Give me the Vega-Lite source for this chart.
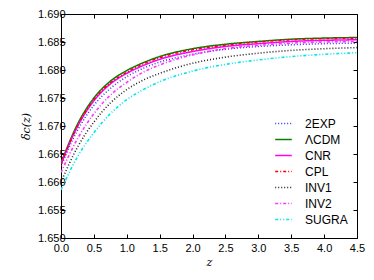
{
  "$schema": "https://vega.github.io/schema/vega-lite/v6.json",
  "width": 296,
  "height": 224,
  "autosize": {"type": "none"},
  "padding": {"left": 61, "top": 14, "right": 17, "bottom": 42},
  "background": "white",
  "config": {
    "font": "Liberation Sans",
    "view": {"stroke": "black", "strokeWidth": 1},
    "axis": {"grid": false, "domain": false, "tickColor": "black", "tickSize": -4, "labelColor": "black", "labelFontSize": 11, "labelFont": "Liberation Sans"},
    "legend": {"labelFontSize": 12, "labelFont": "Liberation Sans", "labelColor": "black"}
  },
  "data": {"values": [
    {"m":"2EXP","z":0,"d":1.6628},{"m":"2EXP","z":0.25,"d":1.6692},{"m":"2EXP","z":0.5,"d":1.6737},{"m":"2EXP","z":0.75,"d":1.6767},{"m":"2EXP","z":1,"d":1.6788},{"m":"2EXP","z":1.25,"d":1.6803},{"m":"2EXP","z":1.5,"d":1.6814},{"m":"2EXP","z":2,"d":1.6828},{"m":"2EXP","z":2.5,"d":1.6837},{"m":"2EXP","z":3,"d":1.6842},{"m":"2EXP","z":3.5,"d":1.6845},{"m":"2EXP","z":4,"d":1.6847},{"m":"2EXP","z":4.5,"d":1.6848},
    {"m":"ΛCDM","z":0,"d":1.6634},{"m":"ΛCDM","z":0.25,"d":1.6703},{"m":"ΛCDM","z":0.5,"d":1.6750},{"m":"ΛCDM","z":0.75,"d":1.6780},{"m":"ΛCDM","z":1,"d":1.6799},{"m":"ΛCDM","z":1.25,"d":1.6813},{"m":"ΛCDM","z":1.5,"d":1.6824},{"m":"ΛCDM","z":2,"d":1.6838},{"m":"ΛCDM","z":2.5,"d":1.6846},{"m":"ΛCDM","z":3,"d":1.6851},{"m":"ΛCDM","z":3.5,"d":1.6855},{"m":"ΛCDM","z":4,"d":1.6857},{"m":"ΛCDM","z":4.5,"d":1.6858},
    {"m":"CNR","z":0,"d":1.6632},{"m":"CNR","z":0.25,"d":1.6699},{"m":"CNR","z":0.5,"d":1.6745},{"m":"CNR","z":0.75,"d":1.6775},{"m":"CNR","z":1,"d":1.6794},{"m":"CNR","z":1.25,"d":1.6808},{"m":"CNR","z":1.5,"d":1.6819},{"m":"CNR","z":2,"d":1.6833},{"m":"CNR","z":2.5,"d":1.6842},{"m":"CNR","z":3,"d":1.6847},{"m":"CNR","z":3.5,"d":1.6851},{"m":"CNR","z":4,"d":1.6853},{"m":"CNR","z":4.5,"d":1.6854},
    {"m":"CPL","z":0,"d":1.6632},{"m":"CPL","z":0.25,"d":1.6700},{"m":"CPL","z":0.5,"d":1.6747},{"m":"CPL","z":0.75,"d":1.6777},{"m":"CPL","z":1,"d":1.6796},{"m":"CPL","z":1.25,"d":1.6811},{"m":"CPL","z":1.5,"d":1.6822},{"m":"CPL","z":2,"d":1.6836},{"m":"CPL","z":2.5,"d":1.6844},{"m":"CPL","z":3,"d":1.6850},{"m":"CPL","z":3.5,"d":1.6854},{"m":"CPL","z":4,"d":1.6856},{"m":"CPL","z":4.5,"d":1.6857},
    {"m":"INV1","z":0,"d":1.6600},{"m":"INV1","z":0.25,"d":1.6662},{"m":"INV1","z":0.5,"d":1.6707},{"m":"INV1","z":0.75,"d":1.6741},{"m":"INV1","z":1,"d":1.6765},{"m":"INV1","z":1.25,"d":1.6782},{"m":"INV1","z":1.5,"d":1.6794},{"m":"INV1","z":2,"d":1.6812},{"m":"INV1","z":2.5,"d":1.6823},{"m":"INV1","z":3,"d":1.6830},{"m":"INV1","z":3.5,"d":1.6835},{"m":"INV1","z":4,"d":1.6838},{"m":"INV1","z":4.5,"d":1.6840},
    {"m":"INV2","z":0,"d":1.6617},{"m":"INV2","z":0.25,"d":1.6677},{"m":"INV2","z":0.5,"d":1.6722},{"m":"INV2","z":0.75,"d":1.6755},{"m":"INV2","z":1,"d":1.6778},{"m":"INV2","z":1.25,"d":1.6796},{"m":"INV2","z":1.5,"d":1.6809},{"m":"INV2","z":2,"d":1.6827},{"m":"INV2","z":2.5,"d":1.6838},{"m":"INV2","z":3,"d":1.6844},{"m":"INV2","z":3.5,"d":1.6848},{"m":"INV2","z":4,"d":1.6850},{"m":"INV2","z":4.5,"d":1.6851},
    {"m":"SUGRA","z":0,"d":1.6586},{"m":"SUGRA","z":0.25,"d":1.6645},{"m":"SUGRA","z":0.5,"d":1.6688},{"m":"SUGRA","z":0.75,"d":1.6722},{"m":"SUGRA","z":1,"d":1.6747},{"m":"SUGRA","z":1.25,"d":1.6765},{"m":"SUGRA","z":1.5,"d":1.6779},{"m":"SUGRA","z":2,"d":1.6798},{"m":"SUGRA","z":2.5,"d":1.6810},{"m":"SUGRA","z":3,"d":1.6818},{"m":"SUGRA","z":3.5,"d":1.6824},{"m":"SUGRA","z":4,"d":1.6828},{"m":"SUGRA","z":4.5,"d":1.6831}
  ]},
  "layer": [
    {
      "mark": {"type": "line", "interpolate": "monotone", "clip": true},
      "encoding": {
        "x": {"field": "z", "type": "quantitative", "scale": {"domain": [0, 4.5], "nice": false, "zero": false},
              "axis": {"orient": "bottom", "values": [0,0.5,1,1.5,2,2.5,3,3.5,4,4.5], "format": ".1f", "title": "z", "titleFontStyle": "italic", "titleFont": "DejaVu Serif", "titleFontWeight": "normal", "titleFontSize": 11, "titlePadding": 3, "labelPadding": 8, "labelFlush": false}},
        "y": {"field": "d", "type": "quantitative", "scale": {"domain": [1.65, 1.69], "nice": false, "zero": false},
              "axis": {"orient": "left", "values": [1.65,1.655,1.66,1.665,1.67,1.675,1.68,1.685,1.69], "format": ".3f", "title": "δc(z)", "titleFontStyle": "italic", "titleFont": "DejaVu Serif", "titleFontWeight": "normal", "titleFontSize": 11, "titlePadding": 6, "labelPadding": 0, "labelFlush": false}},
        "color": {"field": "m", "type": "nominal", "title": null,
                  "scale": {"domain": ["2EXP","ΛCDM","CNR","CPL","INV1","INV2","SUGRA"], "range": ["#3333ff","#008000","#ff00ff","#ff0000","#222222","#ff33ff","#00e5ee"]},
                  "legend": {"orient": "none", "legendX": 213, "legendY": 100, "symbolType": "stroke", "symbolSize": 276, "symbolStrokeWidth": 1.5, "rowPadding": 0, "labelOffset": 12}},
        "strokeDash": {"field": "m", "type": "nominal", "title": null,
                  "scale": {"domain": ["2EXP","ΛCDM","CNR","CPL","INV1","INV2","SUGRA"], "range": [[1,2],[1,0],[1,0],[3,2,1,2],[1,2],[3,2,1,2],[3,2,1,2,1,2]]}},
        "strokeWidth": {"field": "m", "type": "nominal", "title": null,
                  "scale": {"domain": ["2EXP","ΛCDM","CNR","CPL","INV1","INV2","SUGRA"], "range": [1.5,1.6,2.5,1.5,1.3,1.6,1.6]}}
      }
    },
    {
      "mark": {"type": "line", "strokeOpacity": 0},
      "encoding": {
        "x": {"field": "z", "type": "quantitative", "scale": {"domain": [0, 4.5], "nice": false, "zero": false},
              "axis": {"orient": "top", "values": [0,0.5,1,1.5,2,2.5,3,3.5,4,4.5], "labels": false, "title": null}},
        "y": {"field": "d", "type": "quantitative", "scale": {"domain": [1.65, 1.69], "nice": false, "zero": false},
              "axis": {"orient": "right", "values": [1.65,1.655,1.66,1.665,1.67,1.675,1.68,1.685,1.69], "labels": false, "title": null}},
        "detail": {"field": "m"}
      }
    }
  ],
  "resolve": {"axis": {"x": "independent", "y": "independent"}}
}
